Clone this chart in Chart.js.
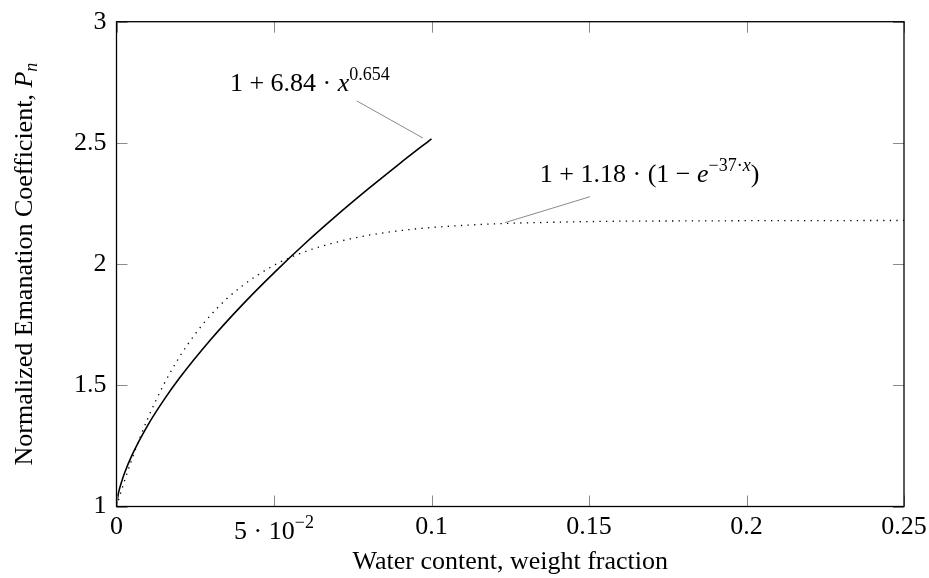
<!DOCTYPE html>
<html>
<head>
<meta charset="utf-8">
<script src="https://cdn.jsdelivr.net/npm/chart.js@4"></script>
<style>
  html, body { margin: 0; padding: 0; background: #fff; }
  #wrap { width: 929px; height: 578px; position: relative; }
</style>
</head>
<body>
<div id="wrap"><canvas id="chart"></canvas></div>
<script>
// --- data ---
const powerX = [0, 0.0005, 0.001, 0.0015, 0.0025, 0.005, 0.01, 0.015, 0.02, 0.03, 0.04, 0.05, 0.06, 0.07, 0.08, 0.09, 0.1];
const powerY = [1, 1.047, 1.075, 1.097, 1.136, 1.214, 1.337, 1.439, 1.530, 1.690, 1.833, 1.964, 2.087, 2.202, 2.311, 2.416, 2.517];

const expX = [0, 0.0025, 0.005, 0.0075, 0.01, 0.015, 0.02, 0.025, 0.03, 0.035, 0.04, 0.05, 0.06, 0.07, 0.08, 0.09, 0.1, 0.12, 0.14, 0.16, 0.18, 0.2, 0.25];
const expY = [1, 1.104, 1.199, 1.286, 1.365, 1.503, 1.617, 1.712, 1.791, 1.857, 1.911, 1.995, 2.052, 2.091, 2.119, 2.138, 2.151, 2.166, 2.173, 2.177, 2.178, 2.179, 2.180];

const xTicks = [0, 0.05, 0.1, 0.15, 0.2, 0.25];
const yTicks = [1, 1.5, 2, 2.5, 3];

const FONT = "'Liberation Serif', 'Times New Roman', serif";
const SIZE = 26;
const SUB = 18;

// pin lines: [fromX, fromY, toX, toY] in data units
const pins = [
  [0.0763, 2.673, 0.0973, 2.52],
  [0.1503, 2.278, 0.1233, 2.171]
];

function toPts(xs, ys) {
  return xs.map((x, i) => ({ x: x, y: ys[i] }));
}

// draws a run of text pieces (normal / italic / superscript / subscript)
function drawRuns(ctx, x, y, runs, measureOnly) {
  let w = 0;
  runs.forEach(r => {
    const size = (r.sup || r.sub) ? SUB : SIZE;
    ctx.font = (r.it ? 'italic ' : '') + size + 'px ' + FONT;
    const dy = r.sup ? -11 : (r.sub ? 5 : 0);
    if (!measureOnly) ctx.fillText(r.t, x + w, y + dy);
    w += ctx.measureText(r.t).width;
  });
  return w;
}

const framePlugin = {
  id: 'frame',
  afterDraw(chart) {
    const ctx = chart.ctx;
    const a = chart.chartArea;
    const xs = chart.scales.x, ys = chart.scales.y;
    ctx.save();

    // inward ticks on all four sides
    ctx.strokeStyle = '#8a8a8a';
    ctx.lineWidth = 1;
    const len = 11;
    xTicks.forEach(v => {
      const px = Math.round(xs.getPixelForValue(v)) + 0.5;
      ctx.beginPath();
      ctx.moveTo(px, a.bottom); ctx.lineTo(px, a.bottom - len);
      ctx.moveTo(px, a.top); ctx.lineTo(px, a.top + len);
      ctx.stroke();
    });
    yTicks.forEach(v => {
      const py = Math.round(ys.getPixelForValue(v)) + 0.5;
      ctx.beginPath();
      ctx.moveTo(a.left, py); ctx.lineTo(a.left + len, py);
      ctx.moveTo(a.right, py); ctx.lineTo(a.right - len, py);
      ctx.stroke();
    });

    // box
    ctx.strokeStyle = '#000';
    ctx.lineWidth = 1.3;
    ctx.strokeRect(a.left, a.top, a.right - a.left, a.bottom - a.top);

    // pin lines
    ctx.strokeStyle = '#8a8a8a';
    ctx.lineWidth = 1;
    pins.forEach(p => {
      ctx.beginPath();
      ctx.moveTo(xs.getPixelForValue(p[0]), ys.getPixelForValue(p[1]));
      ctx.lineTo(xs.getPixelForValue(p[2]), ys.getPixelForValue(p[3]));
      ctx.stroke();
    });

    ctx.fillStyle = '#000';
    ctx.textBaseline = 'alphabetic';
    ctx.textAlign = 'left';

    // curve labels
    drawRuns(ctx, xs.getPixelForValue(0.036), ys.getPixelForValue(2.715), [
      { t: '1 + 6.84 · ' }, { t: 'x', it: true }, { t: '0.654', sup: true }
    ]);
    drawRuns(ctx, xs.getPixelForValue(0.1344), ys.getPixelForValue(2.34), [
      { t: '1 + 1.18 · (1 − ' }, { t: 'e', it: true },
      { t: '−37·', sup: true }, { t: 'x', it: true, sup: true }, { t: ')' }
    ]);

    // 0.05 tick label with power of ten
    const tickRuns = [{ t: '5 · 10' }, { t: '−2', sup: true }];
    const tw = drawRuns(ctx, 0, 0, tickRuns, true);
    drawRuns(ctx, xs.getPixelForValue(0.05) - tw / 2, 539, tickRuns);

    // y axis title, rotated
    const titleRuns = [
      { t: 'Normalized Emanation Coefficient, ' }, { t: 'P', it: true }, { t: 'n', it: true, sub: true }
    ];
    const w = drawRuns(ctx, 0, 0, titleRuns, true);
    ctx.translate(32, (a.top + a.bottom) / 2);
    ctx.rotate(-Math.PI / 2);
    drawRuns(ctx, -w / 2, 0, titleRuns);

    ctx.restore();
  }
};

const ctx = document.getElementById('chart').getContext('2d');
new Chart(ctx, {
  type: 'line',
  data: {
    datasets: [
      {
        label: 'power',
        data: toPts(powerX, powerY),
        borderColor: '#000',
        borderWidth: 1.6,
        pointRadius: 0,
        cubicInterpolationMode: 'monotone',
        fill: false
      },
      {
        label: 'exp',
        data: toPts(expX, expY),
        borderColor: '#000',
        borderWidth: 1.3,
        borderDash: [1.3, 5.3],
        pointRadius: 0,
        cubicInterpolationMode: 'monotone',
        fill: false
      }
    ]
  },
  options: {
    responsive: true,
    maintainAspectRatio: false,
    animation: false,
    layout: { padding: { top: 21.7, right: 25, left: 0, bottom: 0 } },
    plugins: { legend: { display: false }, tooltip: { enabled: false } },
    scales: {
      x: {
        type: 'linear',
        min: 0, max: 0.25,
        afterFit(s) { s.height = 71.5; s.paddingLeft = 0; s.paddingRight = 0; },
        afterBuildTicks(s) { s.ticks = xTicks.map(v => ({ value: v })); },
        grid: { display: false, drawTicks: false },
        border: { display: false },
        ticks: {
          color: '#000',
          padding: 5,
          maxRotation: 0,
          autoSkip: false,
          font: { family: FONT, size: SIZE },
          callback: v => (Math.abs(v - 0.05) < 1e-9 ? '' : String(+v.toFixed(2)))
        },
        title: {
          display: true,
          text: 'Water content, weight fraction',
          color: '#000',
          font: { family: FONT, size: SIZE },
          padding: { top: 0, bottom: 0 }
        }
      },
      y: {
        type: 'linear',
        min: 1, max: 3,
        afterFit(s) { s.width = 116.5; s.paddingTop = 0; s.paddingBottom = 0; },
        afterBuildTicks(s) { s.ticks = yTicks.map(v => ({ value: v })); },
        grid: { display: false, drawTicks: false },
        border: { display: false },
        ticks: {
          color: '#000',
          padding: 10,
          autoSkip: false,
          font: { family: FONT, size: SIZE },
          callback: v => String(v)
        }
      }
    }
  },
  plugins: [framePlugin]
});
</script>
</body>
</html>
